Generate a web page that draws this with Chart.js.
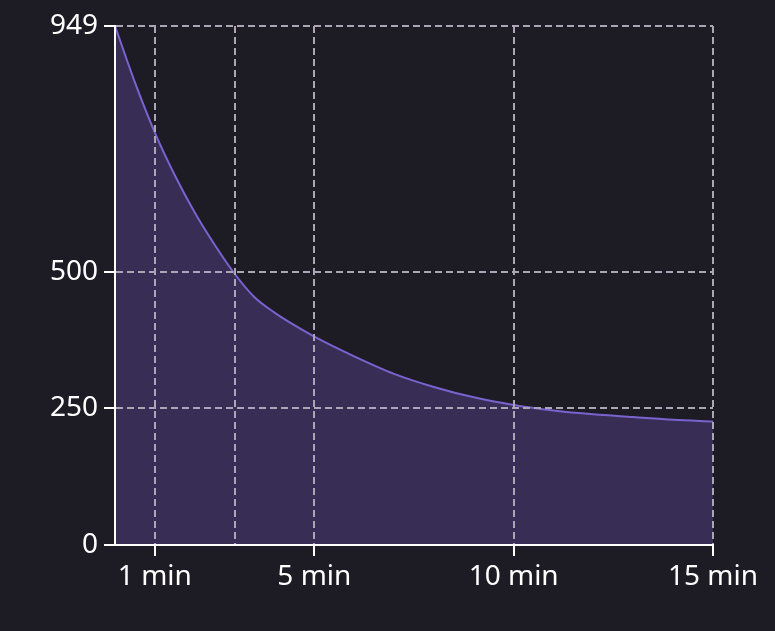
<!DOCTYPE html>
<html>
<head>
<meta charset="utf-8">
<script src="https://cdn.jsdelivr.net/npm/chart.js@4/dist/chart.umd.min.js"></script>
<style>
    html, body { margin: 0; padding: 0; background: #1d1c25; }
    #wrap { width: 775px; height: 631px; position: relative; }
</style>
</head>
<body>
<div id="wrap"><canvas id="powerChart"></canvas></div>
<script>
// Power curve values (minutes -> watts)
const minutes = [0, 0.5, 1, 1.5, 2, 2.5, 3, 3.5, 4, 4.5, 5, 6, 7, 8, 9, 10, 11, 12, 13, 14, 15];
const watts = [949, 846, 754, 676, 608, 549, 496, 453, 425, 402, 381, 345, 313, 289, 270, 256, 246, 239, 234, 229, 226];
const xTicks = [1, 3, 5, 10, 15];
const xLabeled = [1, 5, 10, 15];
const yTicks = [0, 250, 500, 949];

const points = minutes.map((m, i) => ({ x: m, y: watts[i] }));

const gridColor = '#aaa6b6';
const axisColor = '#ffffff';

// grid and axis lines are drawn over the filled area (z > 0)
new Chart(document.getElementById('powerChart'), {
    type: 'line',
    data: {
        datasets: [{
            data: points,
            borderColor: '#7a63cf',
            backgroundColor: '#372d55',
            borderWidth: 2,
            fill: 'origin',
            pointRadius: 0,
            cubicInterpolationMode: 'monotone'
        }]
    },
    options: {
        responsive: true,
        maintainAspectRatio: false,
        animation: false,
        layout: { padding: { top: 26, right: 62, left: 0, bottom: 0 } },
        plugins: {
            legend: { display: false },
            tooltip: { enabled: false }
        },
        scales: {
            x: {
                type: 'linear',
                min: 0,
                max: 15,
                afterBuildTicks: scale => {
                    scale.ticks = xTicks.map(v => ({ value: v }));
                },
                afterFit: scale => { scale.height = 86; },
                border: { color: axisColor, width: 2, dash: [7, 4], z: 2 },
                grid: {
                    z: 1,
                    color: gridColor,
                    lineWidth: 2,
                    borderDash: [7, 4],
                    tickLength: 11,
                    tickBorderDash: [],
                    tickColor: ctx => xLabeled.includes(ctx.tick.value) ? axisColor : 'transparent',
                    tickWidth: 2
                },
                ticks: {
                    autoSkip: false,
                    maxRotation: 0,
                    color: '#ffffff',
                    padding: 4,
                    font: { family: 'Noto Sans', size: 28 },
                    callback: v => xLabeled.includes(v) ? v + ' min' : ''
                }
            },
            y: {
                min: 0,
                max: 949,
                afterBuildTicks: scale => {
                    scale.ticks = yTicks.map(v => ({ value: v }));
                },
                afterFit: scale => { scale.width = 115; },
                border: { color: axisColor, width: 2, dash: [7, 4], z: 2 },
                grid: {
                    z: 1,
                    color: gridColor,
                    lineWidth: 2,
                    borderDash: [7, 4],
                    tickLength: 11,
                    tickBorderDash: [],
                    tickColor: axisColor,
                    tickWidth: 2
                },
                ticks: {
                    color: '#ffffff',
                    padding: 6,
                    font: { family: 'Noto Sans', size: 28 }
                }
            }
        }
    }
});
</script>
</body>
</html>
